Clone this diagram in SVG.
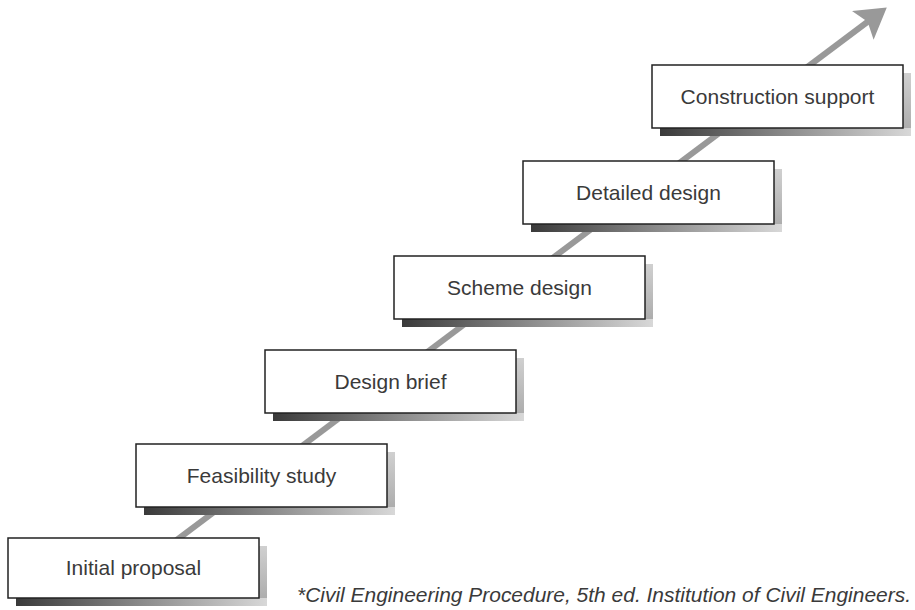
<svg xmlns="http://www.w3.org/2000/svg" width="915" height="610" viewBox="0 0 915 610">
<defs>
<linearGradient id="gb" x1="0" y1="0" x2="1" y2="0"><stop offset="0" stop-color="#3a3a3a"/><stop offset="0.5" stop-color="#8a8a8a"/><stop offset="1" stop-color="#d8d8d8"/></linearGradient>
<linearGradient id="gr" x1="0" y1="0" x2="0" y2="1"><stop offset="0" stop-color="#d0d0d0"/><stop offset="1" stop-color="#a8a8a8"/></linearGradient>
<marker id="ah" markerWidth="6" markerHeight="6" refX="4" refY="3" orient="auto" markerUnits="strokeWidth"><path d="M0,0 L5,3 L0,6 L1,3 Z" fill="#999"/></marker>
</defs>
<style>
.box{fill:#fff;stroke:#222;stroke-width:1.5}
.lbl{font-family:"Liberation Sans",Arial,sans-serif;font-size:21px;fill:#3a3a3a;text-anchor:middle}
.note{font-family:"Liberation Sans",Arial,sans-serif;font-size:20px;font-style:italic;fill:#3a3a3a}
</style>
<rect width="915" height="610" fill="#fff"/>
<g id="connectors">
<line x1="150" y1="560" x2="882" y2="11" stroke="#999" stroke-width="6" marker-end="url(#ah)"/>
</g>
<g id="n1"><rect x="259" y="546" width="8" height="60" fill="url(#gr)"/><rect x="16" y="598" width="251" height="8" fill="url(#gb)"/><rect class="box" x="8" y="538" width="251" height="60"/><text class="lbl" x="133.5" y="575">Initial proposal</text></g>
<g id="n2"><rect x="387" y="452" width="8" height="63" fill="url(#gr)"/><rect x="144" y="507" width="251" height="8" fill="url(#gb)"/><rect class="box" x="136" y="444" width="251" height="63"/><text class="lbl" x="261.5" y="483">Feasibility study</text></g>
<g id="n3"><rect x="516" y="358" width="8" height="63" fill="url(#gr)"/><rect x="273" y="413" width="251" height="8" fill="url(#gb)"/><rect class="box" x="265" y="350" width="251" height="63"/><text class="lbl" x="390.5" y="389">Design brief</text></g>
<g id="n4"><rect x="645" y="264" width="8" height="63" fill="url(#gr)"/><rect x="402" y="319" width="251" height="8" fill="url(#gb)"/><rect class="box" x="394" y="256" width="251" height="63"/><text class="lbl" x="519.5" y="295">Scheme design</text></g>
<g id="n5"><rect x="774" y="169" width="8" height="63" fill="url(#gr)"/><rect x="531" y="224" width="251" height="8" fill="url(#gb)"/><rect class="box" x="523" y="161" width="251" height="63"/><text class="lbl" x="648.5" y="200">Detailed design</text></g>
<g id="n6"><rect x="903" y="73" width="8" height="63" fill="url(#gr)"/><rect x="660" y="128" width="251" height="8" fill="url(#gb)"/><rect class="box" x="652" y="65" width="251" height="63"/><text class="lbl" x="777.5" y="104">Construction support</text></g>
<text class="note" x="297" y="602" textLength="614" lengthAdjust="spacingAndGlyphs">*Civil Engineering Procedure, 5th ed. Institution of Civil Engineers.</text>
</svg>
